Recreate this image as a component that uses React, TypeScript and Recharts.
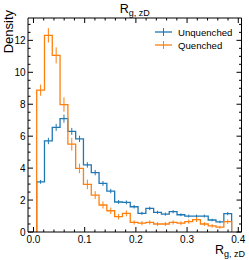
import React from 'react';
import { ComposedChart, Line, Scatter, ErrorBar, XAxis, YAxis, Label } from 'recharts';

// bin edges (25 bins)
const EDGES = [
  0.0063, 0.0215, 0.0367, 0.0519, 0.0672, 0.0824, 0.0976, 0.1129, 0.1281, 0.1433, 0.1586, 0.1738, 0.189,
  0.2042, 0.2195, 0.2347, 0.2499, 0.2652, 0.2804, 0.2956, 0.3109, 0.3261, 0.3413, 0.3565, 0.3718, 0.387,
];

const UNQUENCHED = [
  3.14, 5.7, 6.55, 7.1, 6.3, 5.83, 4.2, 3.72, 3.04, 2.56, 1.88, 1.85, 1.58,
  1.17, 1.48, 1.23, 1.12, 1.27, 1.08, 1.0, 1.0, 1.0, 0.75, 0.63, 1.15,
];
const UNQUENCHED_ERR = [
  0.12, 0.2, 0.22, 0.25, 0.22, 0.2, 0.17, 0.17, 0.15, 0.14, 0.12, 0.12, 0.11,
  0.1, 0.11, 0.1, 0.1, 0.1, 0.09, 0.09, 0.09, 0.09, 0.08, 0.08, 0.1,
];
const QUENCHED = [
  8.88, 12.31, 11.06, 7.98, 5.5, 3.98, 2.98, 2.31, 1.69, 1.33, 0.96, 1.17, 0.6,
  0.55, 0.6, 0.5, 0.5, 0.6, 0.55, 0.65, 0.78, 0.5, 0.38, 0.3, 0.65,
];
const QUENCHED_ERR = [
  0.35, 0.45, 0.5, 0.45, 0.4, 0.3, 0.3, 0.25, 0.22, 0.2, 0.17, 0.18, 0.13,
  0.13, 0.13, 0.12, 0.12, 0.13, 0.12, 0.13, 0.15, 0.12, 0.11, 0.09, 0.14,
];

const X_MAJOR = [0, 0.1, 0.2, 0.3, 0.4];
const X_TICKS = [0, 0.02, 0.04, 0.06, 0.08, 0.1, 0.12, 0.14, 0.16, 0.18, 0.2, 0.22, 0.24, 0.26, 0.28, 0.3, 0.32, 0.34, 0.36, 0.38, 0.4];
const Y_MAJOR = [0, 2, 4, 6, 8, 10, 12];
const Y_TICKS = [0, 0.5, 1, 1.5, 2, 2.5, 3, 3.5, 4, 4.5, 5, 5.5, 6, 6.5, 7, 7.5, 8, 8.5, 9, 9.5, 10, 10.5, 11, 11.5, 12, 12.5, 13];

const X_DOMAIN = [-0.0107, 0.4063];
const Y_DOMAIN = [0, 13.4];

const BLUE = '#1f77b4';
const ORANGE = '#ff7f0e';
const FONT = '"Liberation Sans", Arial, Helvetica, sans-serif';
const MAJOR_LEN = 5;
const MINOR_LEN = 2.5;

// step outline: rises at first edge, drops at last edge
const steps = (vals: number[]) => [
  { x: EDGES[0], y: 0 },
  ...vals.map((v, i) => ({ x: EDGES[i], y: v })),
  { x: EDGES[EDGES.length - 1], y: vals[vals.length - 1] },
  { x: EDGES[EDGES.length - 1], y: 0 },
];

const centers = (vals: number[], errs: number[]) =>
  vals.map((v, i) => ({ x: (EDGES[i] + EDGES[i + 1]) / 2, y: v, err: errs[i] }));

const isMajor = (v: number, majors: number[]) => majors.some((m) => Math.abs(m - v) < 1e-9);

// inward ticks, majors longer, labels only on bottom/left majors
const makeTick = (side: 'bottom' | 'top' | 'left' | 'right') => (p: any) => {
  const { x, y, payload } = p;
  const v = payload.value;
  const major = isMajor(v, side === 'bottom' || side === 'top' ? X_MAJOR : Y_MAJOR);
  const len = major ? MAJOR_LEN : MINOR_LEN;
  let line;
  if (side === 'bottom') line = <line x1={x} x2={x} y1={y} y2={y - len} stroke="#000" />;
  else if (side === 'top') line = <line x1={x} x2={x} y1={y} y2={y + len} stroke="#000" />;
  else if (side === 'left') line = <line x1={x} x2={x + len} y1={y} y2={y} stroke="#000" />;
  else line = <line x1={x} x2={x - len} y1={y} y2={y} stroke="#000" />;
  let label = null;
  if (major && side === 'bottom') {
    label = (
      <text x={x} y={y + 3.5} dy="0.71em" textAnchor="middle" fontSize={10} fontFamily={FONT} fill="#000">
        {v.toFixed(1)}
      </text>
    );
  } else if (major && side === 'left') {
    label = (
      <text x={x - 2.5} y={y} dy="0.355em" textAnchor="end" fontSize={10} fontFamily={FONT} fill="#000">
        {v}
      </text>
    );
  }
  return (
    <g>
      {line}
      {label}
    </g>
  );
};

const Sym = ({ text, sub, x, y, size, anchor }: any) => (
  <text x={x} y={y} textAnchor={anchor} fontFamily={FONT} fill="#000">
    <tspan fontSize={size}>{text}</tspan>
    <tspan fontSize={size * 0.72} dy={3}>{sub}</tspan>
  </text>
);

const LEGEND = [
  { name: 'Unquenched', color: BLUE },
  { name: 'Quenched', color: ORANGE },
];

function TopDecor(p: any) {
  const vb = p.viewBox || { x: 28, y: 0, width: 213.5, height: 18 };
  const cx = vb.x + vb.width / 2;
  const top = vb.y + vb.height;
  return (
    <g>
      <Sym text="R" sub="g, zD" x={cx} y={top - 5} size={12.5} anchor="middle" />
      {LEGEND.map((it, i) => {
        const cy = top + 14 + i * 13;
        return (
          <g key={it.name}>
            <line x1={155} x2={172} y1={cy} y2={cy} stroke={it.color} strokeWidth={1.3} />
            <line x1={163.5} x2={163.5} y1={cy - 4} y2={cy + 4} stroke={it.color} strokeWidth={1} />
            <text x={178} y={cy + 3.5} fontSize={9.6} fontFamily={FONT} fill="#000">
              {it.name}
            </text>
          </g>
        );
      })}
    </g>
  );
}

export default function App() {
  const uSteps = steps(UNQUENCHED);
  const qSteps = steps(QUENCHED);
  const uPts = centers(UNQUENCHED, UNQUENCHED_ERR);
  const qPts = centers(QUENCHED, QUENCHED_ERR);

  return (
    <div>
      <style>{'body{margin:0}'}</style>
      <ComposedChart width={249} height={260} margin={{ top: 0, right: 0, bottom: 0, left: 0 }}>
        <XAxis
          xAxisId="x"
          type="number"
          dataKey="x"
          domain={X_DOMAIN}
          allowDataOverflow
          ticks={X_TICKS}
          interval={0}
          tick={makeTick('bottom')}
          tickLine={false}
          tickSize={0}
          tickMargin={0}
          height={28}
          axisLine={{ stroke: '#000' }}
        >
          <Label content={() => <Sym text="R" sub="g, zD" x={215} y={254} size={12.5} anchor="start" />} />
        </XAxis>
        <XAxis
          xAxisId="xt"
          orientation="top"
          type="number"
          dataKey="x"
          domain={X_DOMAIN}
          allowDataOverflow
          ticks={X_TICKS}
          interval={0}
          tick={makeTick('top')}
          tickLine={false}
          tickSize={0}
          tickMargin={0}
          height={18}
          axisLine={{ stroke: '#000' }}
        >
          <Label content={(p: any) => <TopDecor {...p} />} />
        </XAxis>

        <YAxis
          yAxisId="y"
          type="number"
          domain={Y_DOMAIN}
          allowDataOverflow
          ticks={Y_TICKS}
          interval={0}
          tick={makeTick('left')}
          tickLine={false}
          tickSize={0}
          tickMargin={0}
          width={28}
          axisLine={{ stroke: '#000' }}
        >
          <Label
            content={() => (
              <text x={0} y={0} transform="translate(13,10) rotate(-90)" textAnchor="end"
                fontSize={13} fontFamily={FONT} fill="#000">
                Density
              </text>
            )}
          />
        </YAxis>
        <YAxis
          yAxisId="yr"
          orientation="right"
          type="number"
          domain={Y_DOMAIN}
          allowDataOverflow
          ticks={Y_TICKS}
          interval={0}
          tick={makeTick('right')}
          tickLine={false}
          tickSize={0}
          tickMargin={0}
          width={7.5}
          axisLine={{ stroke: '#000' }}
        />

        <Line xAxisId="x" yAxisId="y" data={uSteps} dataKey="y" type="stepAfter" stroke={BLUE}
          strokeWidth={1.3} dot={false} activeDot={false} isAnimationActive={false} />
        <Scatter xAxisId="x" yAxisId="y" data={uPts} dataKey="y" shape={() => <g />} isAnimationActive={false}>
          <ErrorBar dataKey="err" direction="y" width={0} stroke={BLUE} strokeWidth={1} isAnimationActive={false} />
        </Scatter>
        <Line xAxisId="xt" yAxisId="yr" data={qSteps} dataKey="y" type="stepAfter" stroke={ORANGE}
          strokeWidth={1.3} dot={false} activeDot={false} isAnimationActive={false} />
        <Scatter xAxisId="xt" yAxisId="yr" data={qPts} dataKey="y" shape={() => <g />} isAnimationActive={false}>
          <ErrorBar dataKey="err" direction="y" width={0} stroke={ORANGE} strokeWidth={1} isAnimationActive={false} />
        </Scatter>
      </ComposedChart>
    </div>
  );
}
